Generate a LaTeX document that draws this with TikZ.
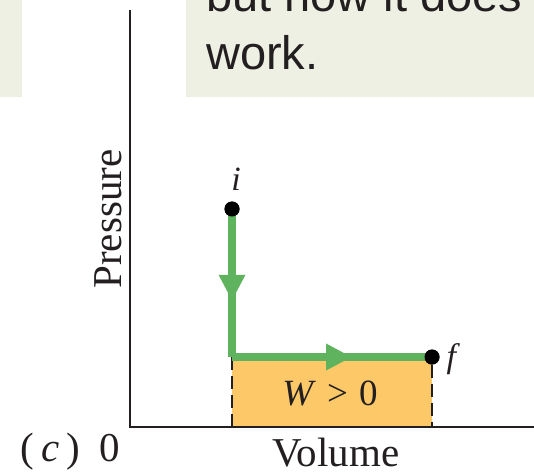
\documentclass[tikz,border=0pt]{standalone}
\usepackage{fontspec}
\setmainfont{Liberation Serif}
\newfontfamily\panelfont{Liberation Sans}
\usetikzlibrary{arrows.meta,decorations.markings}
\definecolor{panelbg}{HTML}{EDF0E2}
\definecolor{ink}{HTML}{231F20}
\definecolor{pathgreen}{HTML}{5FB35F}
\definecolor{workorange}{HTML}{FDC868}
\tikzset{
  axisline/.style={draw=ink, line width=1.8pt},
  pathline/.style={draw=pathgreen, line width=7.5pt},
  statedot/.style={circle, fill=black, inner sep=0pt, minimum size=15pt},
  dashedguide/.style={draw=ink, line width=1.3pt, dash pattern=on 13pt off 6pt},
  axislabel/.style={font=\fontsize{41}{41}\selectfont, text=ink, inner sep=0pt},
  midarrow/.style={postaction={decorate}, decoration={markings,
     mark=at position #1 with {\arrow[pathgreen]{Triangle[length=26pt,width=25pt]}}}}
}
\begin{document}
\begin{tikzpicture}[x=1pt,y=-1pt]
\useasboundingbox (0,0) rectangle (534,474);
% panels
\fill[panelbg] (0,0) rectangle (22,97);
\fill[panelbg] (186,0) rectangle (534,97);
\begin{scope}
\clip (186,0) rectangle (534,97);
\node[anchor=base west, inner sep=0pt, text=ink, font=\panelfont\fontsize{47}{47}\selectfont] (l1) at (206,11) {but now it does};
\node[anchor=base west, inner sep=0pt, text=ink, font=\panelfont\fontsize{47}{47}\selectfont] (l2) at (206,69) {work.};
\end{scope}
% work area
\fill[workorange] (232,357) rectangle (432,427);
% axes
\coordinate (top) at (130,10);
\coordinate (origin) at (130,427);
\coordinate (right) at (534,427);
\draw[axisline] (top) -- (origin) -- (right);
% state points
\node[statedot] (i) at (232,209) {};
\node[statedot] (f) at (432,357) {};
\coordinate (corner) at (232,357);
\coordinate (dl) at (232,427);
\coordinate (dr) at (432,427);
\draw[dashedguide] (corner) -- (dl);
\draw[dashedguide] (f) -- (dr);
\draw[pathline, midarrow=0.62] (i.center) -- (corner);
\draw[pathline, midarrow=0.6] (corner) -- (f.center);
\node[statedot] at (i) {};
\node[statedot] at (f) {};
\node[font=\itshape\fontsize{34}{34}\selectfont, text=ink, anchor=base] (ilab) at (236,190) {i};
\node[font=\itshape\fontsize{34}{34}\selectfont, text=ink, anchor=base west] (flab) at (443,367) {f};
\node[font=\fontsize{37}{37}\selectfont, text=ink, anchor=base] (W) at (330,405) {\textit{W}\hspace{0.3em}>\hspace{0.3em}0};
% labels
\node[axislabel, rotate=90, anchor=base] (p) at (121,219) {Pressure};
\node[axislabel, anchor=base] (v) at (336,466) {Volume};
\node[axislabel, anchor=base] (z) at (110,461) {0};
\node[axislabel, anchor=base west] (c) at (20,461) {(\hspace{0.18em}\textit{c}\hspace{0.18em})};
\end{tikzpicture}
\end{document}
